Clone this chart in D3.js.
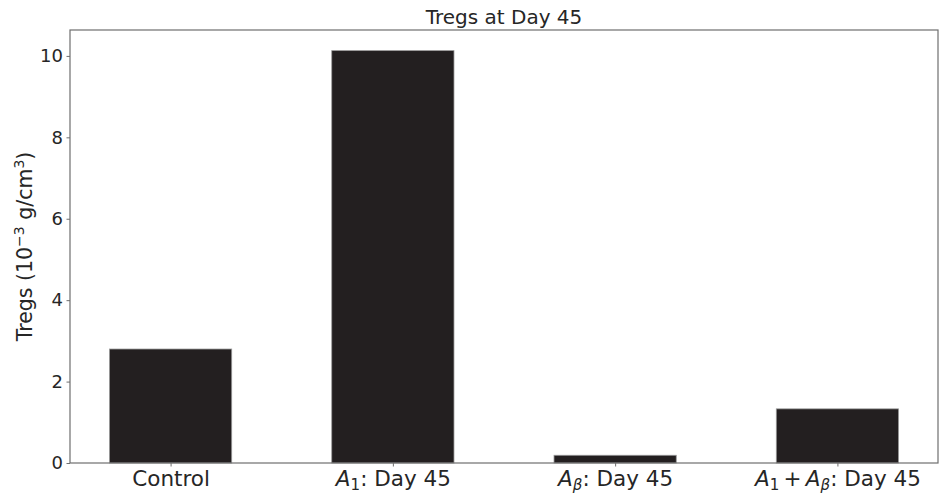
<!DOCTYPE html>
<html>
<head>
<meta charset="utf-8">
<script src="https://cdn.jsdelivr.net/npm/d3@7"></script>
<style>
  html, body { margin: 0; padding: 0; background: #ffffff; }
  svg { display: block; font-family: "DejaVu Sans", sans-serif; }
</style>
</head>
<body>
<svg id="chart" width="941" height="493"></svg>
<script>
// Treg density per group at day 45 (10^-3 g/cm^3)
const categories = ["Control", "A_1: Day 45", "A_β: Day 45", "A_1 + A_β: Day 45"];
const values = [2.80, 10.13, 0.19, 1.33];
const yTicks = [0, 2, 4, 6, 8, 10];
const titleText = "Tregs at Day 45";

const W = 941, H = 493;
const margin = { top: 30, right: 3, bottom: 30, left: 70 };
const barWidth = 0.55;
const textColor = "#262626";
const spineColor = "#6e6e6e";

const svg = d3.select("#chart");

// Index-based x scale with 5% margins around the bars
const xMin = -barWidth / 2, xMax = categories.length - 1 + barWidth / 2;
const xPad = (xMax - xMin) * 0.05;
const x = d3.scaleLinear()
  .domain([xMin - xPad, xMax + xPad])
  .range([margin.left, W - margin.right]);

const yMax = d3.max(values) * 1.05;
const y = d3.scaleLinear()
  .domain([0, yMax])
  .range([H - margin.bottom, margin.top]);

// Bars
svg.append("g")
  .selectAll("rect")
  .data(values)
  .join("rect")
  .attr("x", (d, i) => x(i - barWidth / 2))
  .attr("width", (d, i) => x(i + barWidth / 2) - x(i - barWidth / 2))
  .attr("y", d => y(d))
  .attr("height", d => y(0) - y(d))
  .attr("fill", "#231f20")
  .attr("stroke", "#9a9a9a")
  .attr("stroke-width", 0.8);

// Frame
svg.append("rect")
  .attr("x", x.range()[0])
  .attr("y", margin.top)
  .attr("width", x.range()[1] - x.range()[0])
  .attr("height", y(0) - margin.top)
  .attr("fill", "none")
  .attr("stroke", spineColor)
  .attr("stroke-width", 1.2);

// Y axis
const yAxis = svg.append("g")
  .attr("transform", `translate(${margin.left},0)`)
  .call(d3.axisLeft(y).tickValues(yTicks).tickFormat(d3.format("d")).tickSize(3.5).tickPadding(3.5));
yAxis.select(".domain").remove();
yAxis.selectAll(".tick line").attr("stroke", spineColor).attr("stroke-width", 1);
yAxis.selectAll(".tick text")
  .attr("fill", textColor)
  .style("font-size", "18px")
  .style("font-family", "DejaVu Sans, sans-serif");

// X axis with math-style labels (italic A, subscripts)
const xFont = 21.5;
const xAxis = svg.append("g")
  .attr("transform", `translate(0,${y(0)})`)
  .call(d3.axisBottom(x).tickValues(d3.range(categories.length)).tickFormat(i => categories[i]).tickSize(3.5).tickPadding(4));
xAxis.select(".domain").remove();
xAxis.selectAll(".tick line").attr("stroke", spineColor).attr("stroke-width", 1);

function richLabel(textEl, str) {
  textEl.text(null);
  const parts = str.split(/(A_[^\s:]+)/).filter(s => s.length);
  const shift = xFont * 0.2;
  let pending = 0;
  parts.forEach(p => {
    const m = p.match(/^A_(.+)$/);
    if (m) {
      textEl.append("tspan").attr("font-style", "italic").attr("dy", pending || null).text("A");
      textEl.append("tspan")
        .attr("font-size", (xFont * 0.7) + "px")
        .attr("dy", shift)
        .attr("font-style", m[1] === "β" ? "italic" : "normal")
        .text(m[1]);
      pending = -shift;
    } else {
      textEl.append("tspan").attr("dy", pending || null).text(p.replace(/ \+ /g, "\u2009+\u2009"));
      pending = 0;
    }
  });
}

xAxis.selectAll(".tick text")
  .attr("fill", textColor)
  .style("font-size", xFont + "px")
  .style("font-family", "DejaVu Sans, sans-serif")
  .each(function(i) { richLabel(d3.select(this), categories[i]); });

// Title
svg.append("text")
  .attr("x", (x.range()[0] + x.range()[1]) / 2)
  .attr("y", 24)
  .attr("text-anchor", "middle")
  .attr("fill", textColor)
  .style("font-size", "20px")
  .text(titleText);

// Y label with superscripts
const yl = svg.append("text")
  .attr("transform", `translate(32,${(margin.top + y(0)) / 2}) rotate(-90)`)
  .attr("text-anchor", "middle")
  .attr("fill", textColor)
  .style("font-size", "20.5px");
yl.append("tspan").text("Tregs (10");
yl.append("tspan").attr("font-size", "14px").attr("dy", -8).text("\u2212" + "3");
yl.append("tspan").attr("dy", 8).text(" g/cm");
yl.append("tspan").attr("font-size", "14px").attr("dy", -8).text("3");
yl.append("tspan").attr("dy", 8).text(")");
</script>
</body>
</html>
